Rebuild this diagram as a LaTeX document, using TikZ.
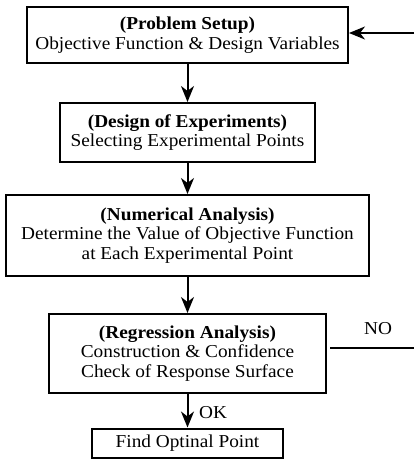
\documentclass[tikz,border=0pt]{standalone}
\usepackage{fontspec}
\setmainfont{Liberation Serif}[FakeStretch=1.06]
\usepackage{tikz}
\usetikzlibrary{arrows.meta,positioning,calc}

\begin{document}
\begin{tikzpicture}[
  x=1pt, y=-1pt,
  font=\fontsize{18.2}{19.5}\selectfont,
  stepbox/.style={draw=black, line width=2pt, inner sep=0pt, align=center},
  arr/.style={-{Stealth[length=16pt, width=13pt, inset=5pt]}, draw=black, line width=2pt},
  fb/.style={draw=black, line width=2pt},
  lbl/.style={font=\fontsize{18.2}{19.5}\selectfont, inner sep=0pt},
]
\useasboundingbox (0,0) rectangle (415,466);

% ============================================================
% MAIN STEPS
% ============================================================
\node[stepbox, minimum width=321pt, minimum height=56pt] (setup) at (187.5,35)
  {\textbf{(Problem Setup)}\\ Objective Function \& Design Variables};
\node[stepbox, minimum width=255pt, minimum height=59pt] (doe) at (187.5,132.5)
  {\textbf{(Design of Experiments)}\\ Selecting Experimental Points};
\node[stepbox, minimum width=363pt, minimum height=81pt] (numan) at (187.5,235.5)
  {\textbf{(Numerical Analysis)}\\ Determine the Value of Objective Function\\ at Each Experimental Point};
\node[stepbox, minimum width=277pt, minimum height=79pt] (regan) at (187.5,353.5)
  {\textbf{(Regression Analysis)}\\ Construction \& Confidence\\ Check of Response Surface};
\node[stepbox, minimum width=191pt, minimum height=29pt] (optim) at (187.5,443)
  {Find Optinal Point};

\draw[arr] (setup) -- (doe);
\draw[arr] (doe) -- (numan);
\draw[arr] (numan) -- (regan);
\draw[arr] (regan) -- (optim);
\node[lbl, anchor=west] (oklbl) at (199,413) {OK};

% ============================================================
% FEEDBACK (NO)
% ============================================================
\coordinate (fbno)  at (414,348);
\coordinate (fbtop) at (414,33);
\draw[fb, shorten <=3pt] (regan.east |- fbno) -- (fbno);
\node[lbl] (nolbl) at (378,329) {NO};
\draw[arr] (fbtop) -- (fbtop -| setup.east);

\end{tikzpicture}
\end{document}
